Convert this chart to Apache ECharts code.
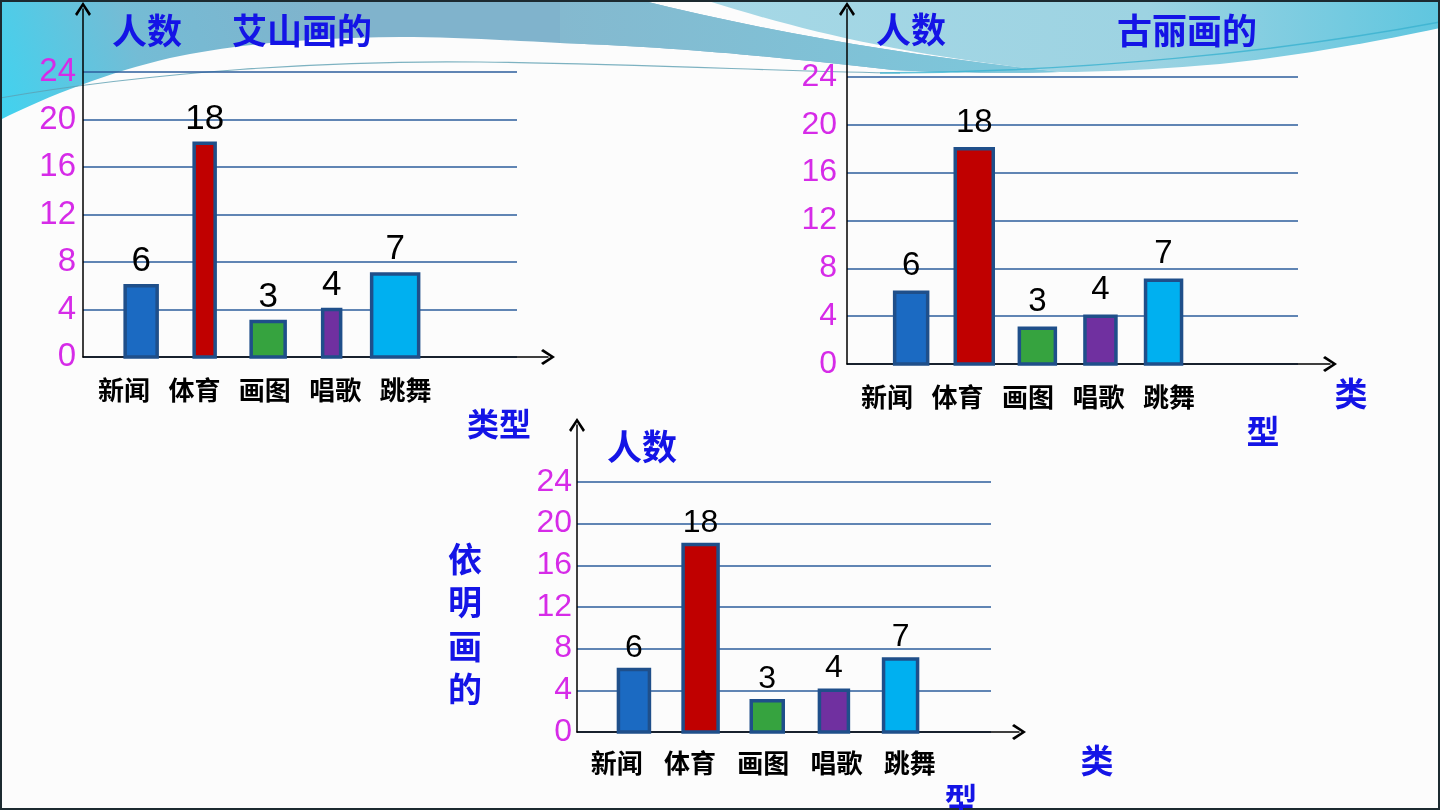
<!DOCTYPE html>
<html>
<head>
<meta charset="utf-8">
<script src="https://cdn.jsdelivr.net/npm/echarts@6/dist/echarts.min.js"></script>
<style>
html,body{margin:0;padding:0;width:1440px;height:810px;overflow:hidden;background:#fcfcfc;}
#bg{position:absolute;left:0;top:0;}
#chart{position:absolute;left:0;top:0;width:1440px;height:810px;}
</style>
</head>
<body>
<svg id="bg" width="1440" height="810" viewBox="0 0 1440 810">
  <defs>
    <linearGradient id="gL" gradientUnits="userSpaceOnUse" x1="320" y1="0" x2="0" y2="125">
      <stop offset="0" stop-color="#80b3cc"/>
      <stop offset="0.55" stop-color="#74bcd5"/>
      <stop offset="1" stop-color="#3fd3f0"/>
    </linearGradient>
    <linearGradient id="gL2" gradientUnits="userSpaceOnUse" x1="560" y1="0" x2="1060" y2="0">
      <stop offset="0" stop-color="#84b9cf"/>
      <stop offset="1" stop-color="#7cc8dc"/>
    </linearGradient>
    <linearGradient id="gR" gradientUnits="userSpaceOnUse" x1="705" y1="0" x2="1440" y2="0">
      <stop offset="0" stop-color="#a6d8e6"/>
      <stop offset="0.6" stop-color="#9dd3e2"/>
      <stop offset="1" stop-color="#5fc6df"/>
    </linearGradient>
  </defs>
  <rect x="0" y="0" width="1440" height="810" fill="#fcfcfc"/>
  <path d="M0,0 L640,0 C760,30 900,55 1060,72 C1000,74 930,72 893,70 C800,60 700,48 560,43 C500,40 450,37 400,37 C300,38 230,45 170,58 C110,72 50,95 0,120 Z" fill="url(#gL)"/>
  <path d="M560,0 L640,0 C760,30 900,55 1060,72 C1000,74 930,72 893,70 C800,60 700,48 560,43 Z" fill="url(#gL2)"/>
  <path d="M705,0 L1440,0 L1440,28 C1360,45 1300,55 1220,64 C1150,70 1100,72 1060,72 C900,55 800,30 705,0 Z" fill="url(#gR)"/>
  <path d="M0,98 C150,72 330,60 480,62 C640,64 800,72 900,73" fill="none" stroke="#5d9fb1" stroke-width="1.2" opacity="0.8"/>
  <path d="M880,73 C1080,72 1280,52 1440,22" fill="none" stroke="#3ab2cf" stroke-width="1.5" opacity="0.8"/>
  <rect x="1" y="1" width="1438" height="808" fill="none" stroke="#1c2a30" stroke-width="2"/>
</svg>
<div id="chart"></div>
<script>
// ---------------- data ----------------
const categories = ['新闻', '体育', '画图', '唱歌', '跳舞'];
const valuesAishan = [6, 18, 3, 4, 7];
const valuesGuli = [6, 18, 3, 4, 7];
const valuesYiming = [6, 18, 3, 4, 7];
const yTickLabels = [0, 4, 8, 12, 16, 20, 24];
const chartTitles = ['艾山画的', '古丽画的', '依明画的'];
const yAxisName = '人数';
const xAxisName = '类型';

// ---------------- styles ----------------
const barColors = ['#1b6ac2', '#c00000', '#36a33f', '#7030a0', '#00b0f0'];
const barBorder = '#1f4f8a';
const tickColor = '#d62be8';
const nameBlue = '#1414e6';
const gridColor = '#2d5e9c';
const cjk = '"Noto Sans CJK SC", "Noto Sans CJK TC", sans-serif';
const latin = '"Liberation Sans", Arial, sans-serif';
const arrowPath = 'path://M0,12 L8,0 L16,12 L14,14 L8,4.5 L2,14 Z';

const charts = [
  { values: valuesAishan,
    arrows: {left: 83, top: 9, width: 465, height: 348},
    grid:   {left: 83, top: 72, width: 434, height: 285},
    bars:   {left: 109.4, width: 317.5},
    labels: {left: 88.8, width: 352},
    labelMargin: 20, tickMargin: 7, valueDist: 5, tickFont: 33, valueFont: 35,
    barWidths: [32, 21, 34, 18, 47] },
  { values: valuesGuli,
    arrows: {left: 847, top: 9, width: 483, height: 355},
    grid:   {left: 847, top: 77, width: 451, height: 287},
    bars:   {left: 879.6, width: 315.5},
    labels: {left: 851.8, width: 352.5},
    labelMargin: 20, tickMargin: 10, valueDist: 8, tickFont: 32, valueFont: 33,
    barWidths: [33, 38, 36, 31, 36] },
  { values: valuesYiming,
    arrows: {left: 577, top: 425, width: 442, height: 307},
    grid:   {left: 577, top: 482, width: 414, height: 250},
    bars:   {left: 600.6, width: 333.3},
    labels: {left: 580, width: 366.5},
    labelMargin: 18, tickMargin: 5, valueDist: 4, tickFont: 32, valueFont: 32,
    barWidths: [31, 35, 32, 29, 34] }
];

const grids = [], xAxes = [], yAxes = [], series = [];
function hiddenValue(g, extra) {
  return Object.assign({gridIndex: g, type: 'value', show: false, splitLine: {show: false}}, extra || {});
}
charts.forEach(function (c, ci) {
  const base = ci * 4;
  const gTop = c.grid.top, gH = c.grid.height;
  // 0: arrow axis lines
  grids.push({left: c.arrows.left, top: c.arrows.top, width: c.arrows.width, height: c.arrows.height, outerBoundsMode: 'none'});
  const axisLineArrow = {show: true, lineStyle: {color: '#000', width: 1.5}, symbol: ['none', arrowPath], symbolSize: [16, 14]};
  xAxes.push({gridIndex: base, type: 'value', min: 0, max: 1, z: 3, axisLine: axisLineArrow, axisTick: {show: false}, axisLabel: {show: false}, splitLine: {show: false}});
  yAxes.push({gridIndex: base, type: 'value', min: 0, max: 1, z: 3, axisLine: axisLineArrow, axisTick: {show: false}, axisLabel: {show: false}, splitLine: {show: false}});
  // 1: gridlines + tick labels
  grids.push({left: c.grid.left, top: gTop, width: c.grid.width, height: gH, outerBoundsMode: 'none'});
  xAxes.push(hiddenValue(base + 1));
  yAxes.push({gridIndex: base + 1, type: 'value', min: 0, max: 24, interval: 4, z: 1,
    axisLine: {show: false}, axisTick: {show: false},
    axisLabel: {color: tickColor, fontSize: c.tickFont, fontFamily: latin, margin: c.tickMargin,
      formatter: function (v) { return yTickLabels.indexOf(v) >= 0 ? String(v) : ''; }},
    splitLine: {show: true, lineStyle: {color: gridColor, width: 1.5}}});
  // 2: bars
  grids.push({left: c.bars.left, top: gTop, width: c.bars.width, height: gH, outerBoundsMode: 'none'});
  xAxes.push({gridIndex: base + 2, type: 'category', data: categories, show: false});
  yAxes.push(hiddenValue(base + 2, {min: 0, max: 24}));
  // 3: category labels
  grids.push({left: c.labels.left, top: gTop, width: c.labels.width, height: gH, outerBoundsMode: 'none'});
  xAxes.push({gridIndex: base + 3, type: 'category', data: categories,
    axisLine: {show: false}, axisTick: {show: false},
    axisLabel: {interval: 0, margin: c.labelMargin, color: '#000', fontSize: 26, lineHeight: 26, fontWeight: 'bold', fontFamily: cjk}});
  yAxes.push(hiddenValue(base + 3, {min: 0, max: 24}));

  series.push({
    type: 'custom', xAxisIndex: base + 2, yAxisIndex: base + 2, z: 5,
    encode: {x: 0, y: 1},
    data: c.values.map(function (v, i) { return [i, v]; }),
    renderItem: function (params, api) {
      const i = api.value(0), v = api.value(1);
      const top = api.coord([i, v]);
      const bot = api.coord([i, 0]);
      const w = c.barWidths[params.dataIndex];
      return {
        type: 'rect',
        shape: {x: top[0] - w / 2, y: top[1], width: w, height: bot[1] - top[1]},
        style: {fill: barColors[params.dataIndex], stroke: barBorder, lineWidth: 3.5},
        textContent: {style: {text: String(v), fontSize: c.valueFont, fontFamily: latin, fill: '#000'}},
        textConfig: {position: 'top', distance: c.valueDist}
      };
    }
  });
});

function txt(text, x, y, size, extra) {
  return Object.assign({type: 'text', x: x, y: y, z: 10, silent: true,
    style: {text: text, fontSize: size, fontFamily: cjk, fontWeight: 'bold', fill: nameBlue, align: 'center', verticalAlign: 'middle'}}, extra || {});
}
const graphics = [
  txt(yAxisName, 147, 31, 35),
  txt(chartTitles[0], 302, 31, 35),
  txt(xAxisName, 499, 424, 32),
  txt(yAxisName, 911, 30, 35),
  txt(chartTitles[1], 1187, 31, 35),
  txt(xAxisName.charAt(0), 1351, 393, 33),
  txt(xAxisName.charAt(1), 1263, 431, 33),
  txt(yAxisName, 642, 447, 35),
  {type: 'text', x: 465, y: 624, z: 10, silent: true,
    style: {text: chartTitles[2].split('').join('\n'), fontSize: 34, lineHeight: 43.5, fontFamily: cjk, fontWeight: 'bold', fill: nameBlue, align: 'center', verticalAlign: 'middle'}},
  txt(xAxisName.charAt(0), 1097, 760, 33),
  txt(xAxisName.charAt(1), 961, 799, 33)
];

const chart = echarts.init(document.getElementById('chart'), null, {renderer: 'canvas'});
chart.setOption({
  backgroundColor: 'transparent',
  animation: false,
  grid: grids,
  xAxis: xAxes,
  yAxis: yAxes,
  series: series,
  graphic: graphics
});
</script>
</body>
</html>
